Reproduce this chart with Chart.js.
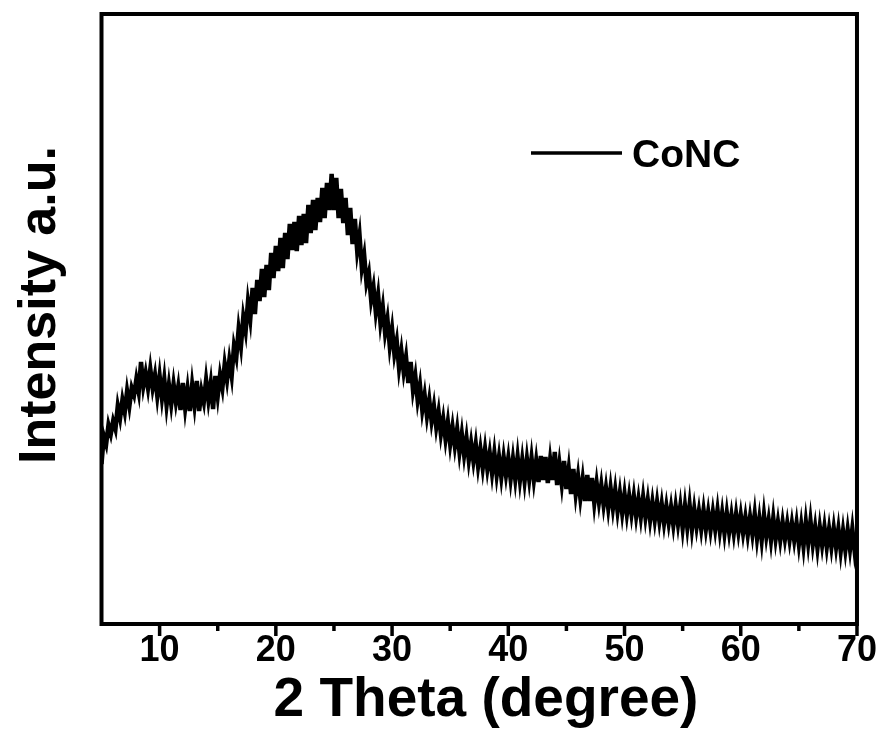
<!DOCTYPE html>
<html><head><meta charset="utf-8">
<script src="https://cdn.jsdelivr.net/npm/chart.js@4.4.1/dist/chart.umd.min.js"></script>
<style>html,body{margin:0;padding:0;background:#fff;}#wrap{width:882px;height:745px;position:relative;}</style>
</head><body><div id="wrap"><canvas id="c"></canvas></div>
<script>
const seriesName = 'CoNC';
const xTitle = '2 Theta (degree)';
const yTitle = 'Intensity a.u.';
const xTickLabels = [10, 20, 30, 40, 50, 60, 70];
const xMinorTicks = [15, 25, 35, 45, 55, 65];
const twoTheta = [
5,5.2,5.4,5.6,5.8, 6,6.2,6.4,6.6,6.8, 7,7.2,7.4,7.6,7.8, 8,8.2,8.4,8.6,8.8, 9,9.2,9.4,9.6,9.8,
10,10.2,10.4,10.6,10.8, 11,11.2,11.4,11.6,11.8, 12,12.2,12.4,12.6,12.8, 13,13.2,13.4,13.6,13.8, 14,14.2,14.4,14.6,14.8,
15,15.2,15.4,15.6,15.8, 16,16.2,16.4,16.6,16.8, 17,17.2,17.4,17.6,17.8, 18,18.2,18.4,18.6,18.8, 19,19.2,19.4,19.6,19.8,
20,20.2,20.4,20.6,20.8, 21,21.2,21.4,21.6,21.8, 22,22.2,22.4,22.6,22.8, 23,23.2,23.4,23.6,23.8, 24,24.2,24.4,24.6,24.8,
25,25.2,25.4,25.6,25.8, 26,26.2,26.4,26.6,26.8, 27,27.2,27.4,27.6,27.8, 28,28.2,28.4,28.6,28.8, 29,29.2,29.4,29.6,29.8,
30,30.2,30.4,30.6,30.8, 31,31.2,31.4,31.6,31.8, 32,32.2,32.4,32.6,32.8, 33,33.2,33.4,33.6,33.8, 34,34.2,34.4,34.6,34.8,
35,35.2,35.4,35.6,35.8, 36,36.2,36.4,36.6,36.8, 37,37.2,37.4,37.6,37.8, 38,38.2,38.4,38.6,38.8, 39,39.2,39.4,39.6,39.8,
40,40.2,40.4,40.6,40.8, 41,41.2,41.4,41.6,41.8, 42,42.2,42.4,42.6,42.8, 43,43.2,43.4,43.6,43.8, 44,44.2,44.4,44.6,44.8,
45,45.2,45.4,45.6,45.8, 46,46.2,46.4,46.6,46.8, 47,47.2,47.4,47.6,47.8, 48,48.2,48.4,48.6,48.8, 49,49.2,49.4,49.6,49.8,
50,50.2,50.4,50.6,50.8, 51,51.2,51.4,51.6,51.8, 52,52.2,52.4,52.6,52.8, 53,53.2,53.4,53.6,53.8, 54,54.2,54.4,54.6,54.8,
55,55.2,55.4,55.6,55.8, 56,56.2,56.4,56.6,56.8, 57,57.2,57.4,57.6,57.8, 58,58.2,58.4,58.6,58.8, 59,59.2,59.4,59.6,59.8,
60,60.2,60.4,60.6,60.8, 61,61.2,61.4,61.6,61.8, 62,62.2,62.4,62.6,62.8, 63,63.2,63.4,63.6,63.8, 64,64.2,64.4,64.6,64.8,
65,65.2,65.4,65.6,65.8, 66,66.2,66.4,66.6,66.8, 67,67.2,67.4,67.6,67.8, 68,68.2,68.4,68.6,68.8, 69,69.2,69.4,69.6,69.8,
70
];
const intensity = [
160,188,180,199,190, 203,195,218,206,224, 212,233,218,236,229, 245,232,262,238,251, 236,255,236,249,228,
248,226,245,219,239, 220,240,222,237,214, 241,216,235,213,239, 219,243,213,233,222, 244,224,241,215,248,
228,249,236,260,244, 264,248,278,267,295, 278,307,293,322,305, 336,310,344,323,355, 327,359,334,371,346,
378,353,386,356,391, 365,400,374,402,373, 408,379,410,381,419, 391,424,394,426,402, 436,406,441,414,450,
414,446,406,435,401, 426,389,416,380,405, 373,389,356,369,341, 351,324,337,312,329, 301,317,291,305,278,
295,270,283,256,273, 252,267,241,262,234, 248,224,239,214,229, 208,224,203,218,197, 212,190,205,185,202,
180,197,178,195,172, 190,169,186,164,181, 163,180,158,175,156, 175,155,171,151,171, 149,167,147,167,149,
166,145,165,145,167, 144,164,143,165,145, 166,144,163,142,168, 144,167,141,164,144, 172,139,160,140,163,
135,155,130,155,130, 148,126,145,123,149, 123,146,121,141,122, 139,119,136,116,136, 116,134,113,131,111,
130,110,128,110,128, 108,125,107,127,107, 124,104,122,104,122, 103,120,101,118,101, 117,99,118,100,118,
96,118,97,119,95, 115,97,113,95,114, 95,112,94,112,95, 114,93,111,91,111, 92,109,91,110,92,
109,91,107,89,107, 90,110,86,105,84, 109,88,104,84,106, 85,102,84,102,85, 101,84,101,84,101,
80,99,78,102,81, 103,80,97,76,97, 79,97,77,95,77, 96,77,95,73,93, 74,94,75,95,73,
90
];

const points = twoTheta.map((x, i) => ({ x: x, y: intensity[i] }));
const FONT = '"Liberation Sans", Arial, sans-serif';

const framePlugin = {
  id: 'frame',
  afterDatasetsDraw(chart) {
    const { ctx, chartArea: a, scales: { x } } = chart;
    ctx.save();
    ctx.strokeStyle = '#000';
    ctx.fillStyle = '#000';
    ctx.lineWidth = 4;
    ctx.strokeRect(a.left, a.top, a.right - a.left, a.bottom - a.top);
    ctx.lineWidth = 3.5;
    xTickLabels.forEach(v => {
      const px = x.getPixelForValue(v);
      ctx.beginPath(); ctx.moveTo(px, a.bottom); ctx.lineTo(px, a.bottom + 12); ctx.stroke();
    });
    xMinorTicks.forEach(v => {
      const px = x.getPixelForValue(v);
      ctx.beginPath(); ctx.moveTo(px, a.bottom); ctx.lineTo(px, a.bottom + 7); ctx.stroke();
    });
    // legend
    const ds = chart.data.datasets[0];
    ctx.lineWidth = 3.5;
    ctx.beginPath(); ctx.moveTo(531, 153); ctx.lineTo(622, 153); ctx.stroke();
    ctx.font = 'bold 39px ' + FONT;
    ctx.textAlign = 'left'; ctx.textBaseline = 'alphabetic';
    ctx.fillText(ds.label, 632, 167);
    // axis titles
    ctx.font = 'bold 55px ' + FONT;
    ctx.textAlign = 'center';
    ctx.fillText(xTitle, 486, 716);
    ctx.translate(55, 305);
    ctx.rotate(-Math.PI / 2);
    ctx.font = 'bold 52px ' + FONT;
    ctx.fillText(yTitle, 0, 0);
    ctx.restore();
  }
};

new Chart(document.getElementById('c'), {
  type: 'line',
  data: {
    datasets: [{
      label: seriesName,
      data: points,
      borderColor: '#000',
      backgroundColor: '#000',
      borderWidth: 4.5,
      pointRadius: 0,
      tension: 0,
      fill: false
    }]
  },
  options: {
    responsive: true,
    maintainAspectRatio: false,
    animation: false,
    devicePixelRatio: 1,
    layout: { padding: { top: 14, right: 25, left: 0, bottom: 0 } },
    plugins: { legend: { display: false }, tooltip: { enabled: false } },
    scales: {
      x: {
        type: 'linear', min: 5, max: 70,
        afterBuildTicks: s => { s.ticks = xTickLabels.map(v => ({ value: v })); },
        afterFit: s => { s.height = 121; },
        grid: { display: false, drawTicks: false },
        border: { display: false },
        ticks: { color: '#000', font: { family: FONT, size: 36, weight: 'bold' }, padding: 5, maxRotation: 0, autoSkip: false }
      },
      y: {
        type: 'linear', min: 0, max: 610,
        afterFit: s => { s.width = 101.5; },
        grid: { display: false, drawTicks: false },
        border: { display: false },
        ticks: { display: false }
      }
    }
  },
  plugins: [framePlugin]
});
</script>
</body></html>
